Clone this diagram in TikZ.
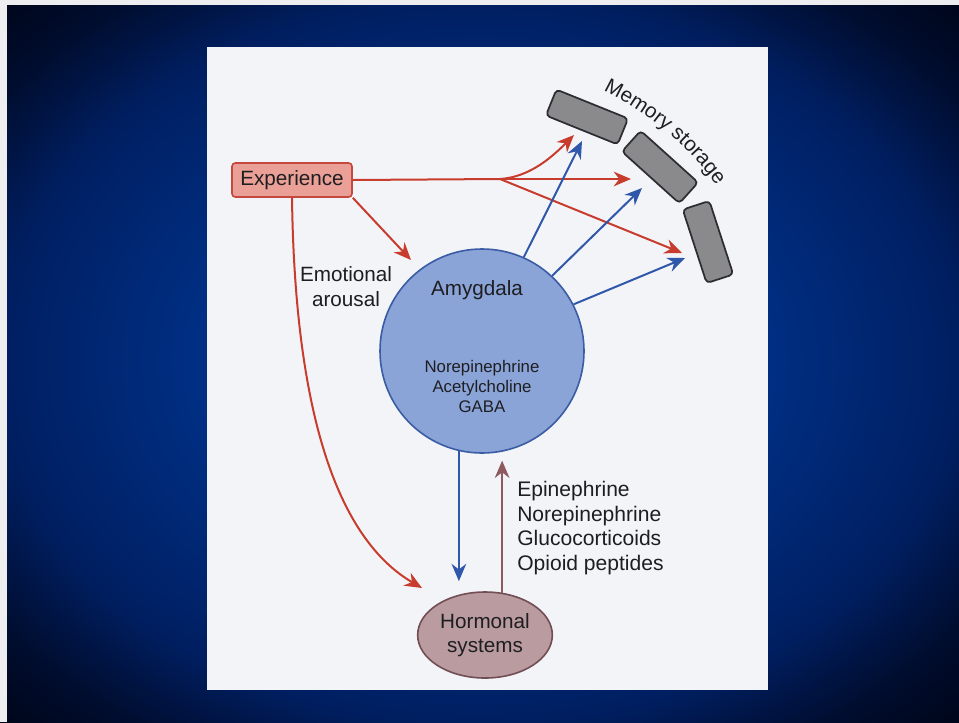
\documentclass[tikz,border=0pt]{standalone}
\usepackage{fontspec}
\setmainfont{Liberation Sans}
\usetikzlibrary{arrows.meta,shapes.geometric,decorations.text}

\definecolor{stripgray}{RGB}{238,238,240}
\definecolor{paper}{RGB}{243,244,248}
\definecolor{labeltext}{RGB}{30,30,33}
\definecolor{expfill}{RGB}{234,160,150}
\definecolor{expline}{RGB}{196,72,62}
\definecolor{arrowred}{RGB}{200,60,45}
\definecolor{arrowblue}{RGB}{48,88,170}
\definecolor{amyfill}{RGB}{138,164,216}
\definecolor{amyline}{RGB}{58,92,165}
\definecolor{memfill}{RGB}{138,138,140}
\definecolor{memline}{RGB}{45,45,48}
\definecolor{hormfill}{RGB}{185,155,160}
\definecolor{hormline}{RGB}{112,78,84}
\definecolor{arrowbrown}{RGB}{140,90,95}

\pgfdeclareradialshading{slidebg}{\pgfpoint{0bp}{0bp}}{%
  rgb(0bp)=(0,0.2,0.55); rgb(12bp)=(0,0.2,0.55); rgb(25bp)=(0,0.12,0.38);
  rgb(31bp)=(0,0.05,0.18); rgb(36bp)=(0,0.02,0.09); rgb(50bp)=(0,0.02,0.09)}

\begin{document}
\begin{tikzpicture}[x=0.75pt,y=-0.75pt,
  lbl/.style={font=\fontsize{15.5pt}{18pt}\selectfont, text=labeltext, align=center, inner sep=0pt},
  expbox/.style={lbl, draw=expline, fill=expfill, line width=1.2pt, rounded corners=2.5pt,
    minimum width=90pt, minimum height=25.5pt},
  amybox/.style={circle, draw=amyline, fill=amyfill, line width=1.2pt, minimum size=153pt, inner sep=0pt},
  membox/.style={draw=memline, fill=memfill, line width=1.3pt, rounded corners=3pt,
    minimum width=58pt, minimum height=21pt, inner sep=0pt},
  hormbox/.style={lbl, ellipse, draw=hormline, fill=hormfill, line width=1.2pt,
    minimum width=101pt, minimum height=64.5pt},
  tip/.style={-{Stealth[length=13pt,width=11pt]}},
  redline/.style={draw=arrowred, line width=1.5pt},
  redarrow/.style={redline, tip},
  bluearrow/.style={draw=arrowblue, line width=1.5pt, tip},
  brownarrow/.style={draw=arrowbrown, line width=1.5pt, tip}]

\useasboundingbox (0,0) rectangle (959,722);
% slide background and scanned page
\shade[shading=slidebg] (0,0) rectangle (959,722);
\fill[stripgray] (0,0) rectangle (959,5);
\fill[stripgray] (0,0) rectangle (7,722);
\fill[paper] (207,47) rectangle (768,690);

% nodes
\node[expbox] (exp) at (292,180) {Experience};
\node[lbl, font=\fontsize{15.5pt}{18.75pt}\selectfont] (emo) at (346,287) {Emotional\\arousal};
\node[amybox] (amyg) at (482,351) {};
\node[lbl] (amytxt) at (477,290) {Amygdala};
\node[lbl, font=\fontsize{12.6pt}{15pt}\selectfont] (trans) at (482,386) {Norepinephrine\\Acetylcholine\\GABA};
\node[membox, rotate=-22] (mem1) at (587,117) {};
\node[membox, rotate=-42] (mem2) at (660,167) {};
\node[membox, rotate=-72] (mem3) at (708,242) {};
\node[hormbox, font=\fontsize{15.5pt}{18pt}\selectfont] (horm) at (485,635) {Hormonal\\systems};
\node[lbl, anchor=west, align=left, font=\fontsize{15.8pt}{18.4pt}\selectfont] (hormtxt) at (517,528)
  {Epinephrine\\Norepinephrine\\Glucocorticoids\\Opioid peptides};

% label along the memory boxes
\coordinate (mcentre) at (471,363);
\path[decorate, decoration={text along path, text align=center, text color=labeltext,
  text={|\fontsize{15.5pt}{15.5pt}\selectfont|Memory storage}}]
  (mcentre) ++(-69:303) arc[start angle=-69, end angle=-31, radius=303];

% arrow ends
\coordinate (fork) at (500,179);
\coordinate (m1red) at (574,135);
\coordinate (m2red) at (631,179);
\coordinate (m3red) at (682,253);
\coordinate (m1blue) at (582,141);
\coordinate (m2blue) at (642,188);
\coordinate (m3blue) at (685,258);
\coordinate (amygin) at (411,260);
\coordinate (hormin) at (422,588);

% red: from experience
\draw[redline] (exp.east) -- (fork);
\draw[redarrow] (fork) .. controls (530,177) and (552,157) .. (m1red);
\draw[redarrow] (fork) -- (m2red);
\draw[redarrow] (fork) -- (m3red);
\draw[redarrow] (exp.south east) -- (amygin);
\draw[redarrow] (exp.south) .. controls (295,420) and (340,540) .. (hormin);

% blue: from amygdala
\draw[bluearrow] (amyg.66) -- (m1blue);
\draw[bluearrow] (amyg.47) -- (m2blue);
\draw[bluearrow] (amyg.27) -- (m3blue);
\draw[bluearrow] (amyg.-103) -- ++(0,130);

% hormones back up
\draw[brownarrow] (horm.68) -- ++(0,-132);
\end{tikzpicture}
\end{document}
